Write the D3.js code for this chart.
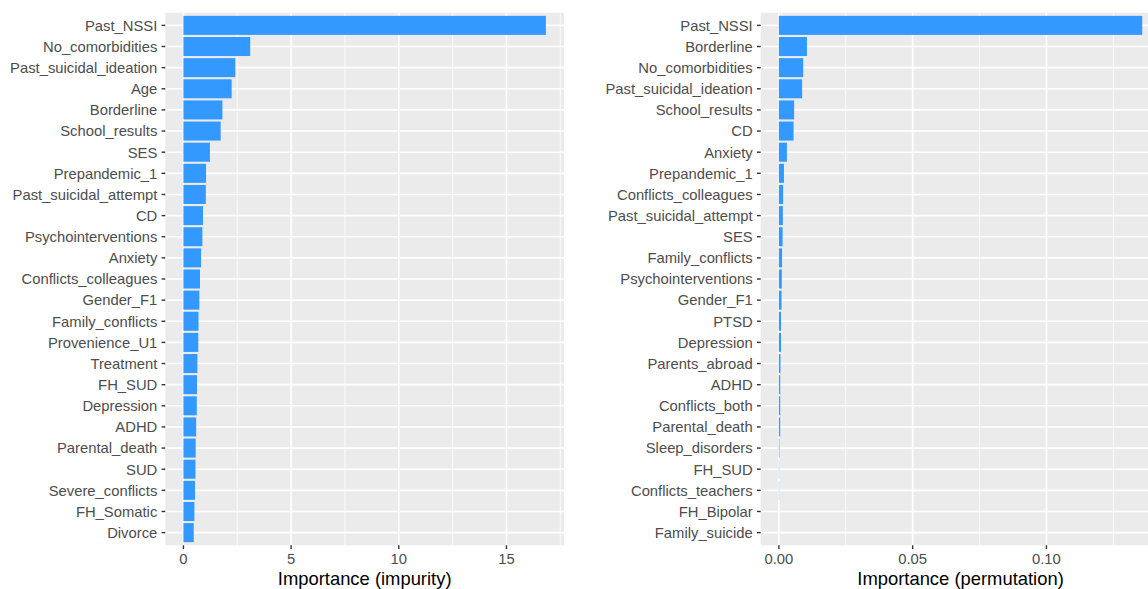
<!DOCTYPE html>
<html>
<head>
<meta charset="utf-8">
<script src="https://cdn.jsdelivr.net/npm/d3@7/dist/d3.min.js"></script>
<style>
  html, body { margin: 0; padding: 0; background: #fff; overflow: hidden; }
  svg { display: block; }
  text { font-family: "Liberation Sans", Arial, Helvetica, sans-serif; }
</style>
</head>
<body>
<svg id="chart" width="1148" height="589"></svg>
<script>
// ---- Data ----
const impurityVars = ["Past_NSSI","No_comorbidities","Past_suicidal_ideation","Age","Borderline",
  "School_results","SES","Prepandemic_1","Past_suicidal_attempt","CD","Psychointerventions",
  "Anxiety","Conflicts_colleagues","Gender_F1","Family_conflicts","Provenience_U1","Treatment",
  "FH_SUD","Depression","ADHD","Parental_death","SUD","Severe_conflicts","FH_Somatic","Divorce"];
const impurityValues = [16.83, 3.10, 2.41, 2.24, 1.81, 1.73, 1.23, 1.05, 1.04, 0.91, 0.88,
  0.82, 0.77, 0.74, 0.70, 0.69, 0.65, 0.63, 0.62, 0.59, 0.57, 0.56, 0.54, 0.51, 0.48];
const impurityTicks = [0, 5, 10, 15];
const impurityMinor = [2.5, 7.5, 12.5, 17.5];

const permVars = ["Past_NSSI","Borderline","No_comorbidities","Past_suicidal_ideation","School_results",
  "CD","Anxiety","Prepandemic_1","Conflicts_colleagues","Past_suicidal_attempt","SES",
  "Family_conflicts","Psychointerventions","Gender_F1","PTSD","Depression","Parents_abroad",
  "ADHD","Conflicts_both","Parental_death","Sleep_disorders","FH_SUD","Conflicts_teachers",
  "FH_Bipolar","Family_suicide"];
const permValues = [0.1358, 0.0105, 0.0091, 0.0087, 0.0057, 0.0055, 0.0030, 0.0019, 0.0016,
  0.0015, 0.0014, 0.0012, 0.0011, 0.0010, 0.0008, 0.0008, 0.0006, 0.0005, 0.0005, 0.0005,
  0.0002, 0.0001, 0.0001, 0.0000, 0.0000];
const permTicks = [0, 0.05, 0.10];
const permTickLabels = ["0.00", "0.05", "0.10"];
const permMinor = [0.025, 0.075, 0.125];

// ---- Drawing ----
const svg = d3.select("#chart");
const panelTop = 12.7, panelBottom = 545.3;
const barColor = "#3399FF";
const tickFont = 14.8, titleFont = 18.4;

function panel(opts) {
  const { vars, values, ticks, tickLabels, minor, x0, x1, title } = opts;
  const maxV = d3.max(values), minV = Math.min(0, d3.min(values));
  const pad = (maxV - minV) * 0.05;
  const x = d3.scaleLinear().domain([minV - pad, maxV + pad]).range([x0, x1]);
  const y = d3.scaleBand().domain(vars).range([panelTop, panelBottom])
    .paddingInner(0.1).paddingOuter(0.15);
  const yc = d => y(d) + y.bandwidth() / 2;

  const g = svg.append("g");
  g.append("rect").attr("x", x0).attr("y", panelTop)
    .attr("width", x1 - x0).attr("height", panelBottom - panelTop).attr("fill", "#EBEBEB");

  g.append("g").selectAll("line").data(minor).join("line")
    .attr("x1", d => x(d)).attr("x2", d => x(d))
    .attr("y1", panelTop).attr("y2", panelBottom)
    .attr("stroke", "#fff").attr("stroke-width", 0.8);
  g.append("g").selectAll("line").data(ticks).join("line")
    .attr("x1", d => x(d)).attr("x2", d => x(d))
    .attr("y1", panelTop).attr("y2", panelBottom)
    .attr("stroke", "#fff").attr("stroke-width", 1.6);
  g.append("g").selectAll("line").data(vars).join("line")
    .attr("x1", x0).attr("x2", x1)
    .attr("y1", yc).attr("y2", yc)
    .attr("stroke", "#fff").attr("stroke-width", 1.6);

  g.append("g").selectAll("rect").data(vars).join("rect")
    .attr("x", (d, i) => x(Math.min(0, values[i])))
    .attr("y", d => y(d))
    .attr("width", (d, i) => Math.abs(x(values[i]) - x(0)))
    .attr("height", y.bandwidth())
    .attr("fill", barColor);

  const ya = g.append("g");
  ya.selectAll("line").data(vars).join("line")
    .attr("x1", x0 - 3.7).attr("x2", x0)
    .attr("y1", yc).attr("y2", yc)
    .attr("stroke", "#333").attr("stroke-width", 1.4);
  ya.selectAll("text").data(vars).join("text")
    .attr("x", x0 - 8)
    .attr("y", yc)
    .attr("dy", "0.36em")
    .attr("text-anchor", "end")
    .attr("font-size", tickFont)
    .attr("fill", "#4D4D4D")
    .text(d => d);

  const xa = g.append("g");
  xa.selectAll("line").data(ticks).join("line")
    .attr("x1", d => x(d)).attr("x2", d => x(d))
    .attr("y1", panelBottom).attr("y2", panelBottom + 3.7)
    .attr("stroke", "#333").attr("stroke-width", 1.4);
  xa.selectAll("text").data(ticks).join("text")
    .attr("x", d => x(d))
    .attr("y", 564)
    .attr("text-anchor", "middle")
    .attr("font-size", tickFont)
    .attr("fill", "#4D4D4D")
    .text((d, i) => tickLabels[i]);

  g.append("text")
    .attr("x", (x0 + x1) / 2)
    .attr("y", 585)
    .attr("text-anchor", "middle")
    .attr("font-size", titleFont)
    .attr("fill", "#000")
    .text(title);
}

panel({ vars: impurityVars, values: impurityValues, ticks: impurityTicks,
  tickLabels: impurityTicks.map(String), minor: impurityMinor,
  x0: 165.3, x1: 564, title: "Importance (impurity)" });
panel({ vars: permVars, values: permValues, ticks: permTicks,
  tickLabels: permTickLabels, minor: permMinor,
  x0: 760.7, x1: 1160.4, title: "Importance (permutation)" });
</script>
</body>
</html>
